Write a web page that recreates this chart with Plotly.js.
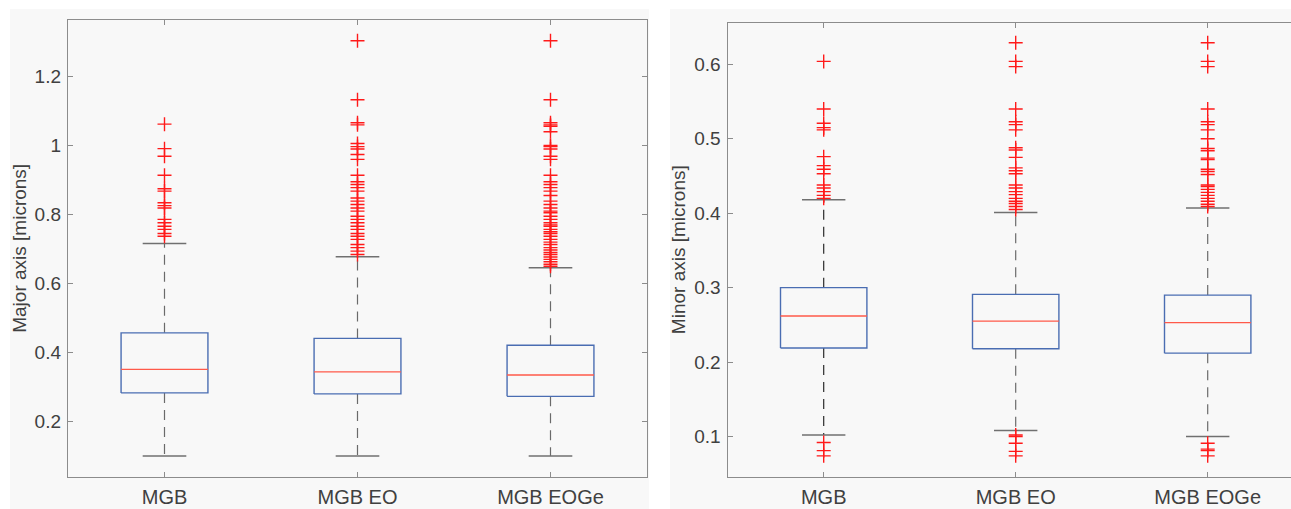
<!DOCTYPE html>
<html>
<head>
<meta charset="utf-8">
<script src="https://cdn.plot.ly/plotly-3.0.1.min.js"></script>
<style>
html,body{margin:0;padding:0;background:#ffffff;}
#chart{width:1291px;height:509px;}
</style>
</head>
<body>
<div id="chart"></div>
<script>
// ---------- data ----------
var categories = ['MGB', 'MGB EO', 'MGB EOGe'];

// Major axis [microns]
var majorQ1 = [0.283, 0.280, 0.273];
var majorMedian = [0.351, 0.344, 0.335];
var majorQ3 = [0.457, 0.441, 0.421];
var majorLowerWhisker = [0.100, 0.100, 0.100];
var majorUpperWhisker = [0.716, 0.678, 0.646];
var majorOutliersMGB = [1.062, 0.991, 0.969, 0.914, 0.875, 0.868, 0.834, 0.826, 0.819, 0.786, 0.776, 0.766, 0.757, 0.745, 0.737];
var majorOutliersEO = [1.304, 1.133, 1.066, 1.060, 1.006, 0.997, 0.990, 0.974, 0.960, 0.914, 0.895, 0.887, 0.878, 0.868, 0.848, 0.839, 0.829, 0.819, 0.810, 0.795, 0.786, 0.776, 0.766, 0.757, 0.745, 0.737, 0.728, 0.713, 0.704, 0.694, 0.684];
var majorOutliersEOGe = [1.304, 1.133, 1.066, 1.060, 1.056, 1.040, 1.000, 0.997, 0.990, 0.969, 0.960, 0.914, 0.895, 0.887, 0.878, 0.868, 0.855, 0.839, 0.829, 0.819, 0.810, 0.805, 0.795, 0.786, 0.776, 0.770, 0.766, 0.757, 0.750, 0.745, 0.737, 0.728, 0.720, 0.713, 0.704, 0.697, 0.690, 0.684, 0.677, 0.670, 0.663, 0.656, 0.650];

// Minor axis [microns]
var minorQ1 = [0.219, 0.218, 0.212];
var minorMedian = [0.262, 0.255, 0.253];
var minorQ3 = [0.300, 0.291, 0.290];
var minorLowerWhisker = [0.102, 0.108, 0.100];
var minorUpperWhisker = [0.418, 0.401, 0.407];
var minorOutliersMGB = [0.604, 0.540, 0.521, 0.515, 0.512, 0.476, 0.464, 0.459, 0.453, 0.438, 0.434, 0.429, 0.424, 0.420, 0.092, 0.081, 0.074];
var minorOutliersEO = [0.629, 0.604, 0.597, 0.540, 0.523, 0.519, 0.512, 0.488, 0.485, 0.475, 0.461, 0.457, 0.453, 0.438, 0.434, 0.429, 0.425, 0.420, 0.416, 0.413, 0.409, 0.405, 0.102, 0.100, 0.091, 0.080, 0.074];
var minorOutliersEOGe = [0.629, 0.604, 0.597, 0.540, 0.523, 0.519, 0.512, 0.500, 0.487, 0.484, 0.474, 0.472, 0.459, 0.456, 0.452, 0.438, 0.436, 0.432, 0.428, 0.424, 0.420, 0.416, 0.412, 0.409, 0.091, 0.083, 0.081, 0.074];

var majorTicks = [0.2, 0.4, 0.6, 0.8, 1, 1.2];
var majorTickText = ['0.2', '0.4', '0.6', '0.8', '1', '1.2'];
var minorTicks = [0.1, 0.2, 0.3, 0.4, 0.5, 0.6];
var minorTickText = ['0.1', '0.2', '0.3', '0.4', '0.5', '0.6'];

// ---------- styling ----------
var BOX_HALF = 0.225, CAP_HALF = 0.113;
var BLUE = '#4a6db2', RED_MED = '#ff5a4a', OUT = '#ff1a1a';
var FONT = 'Liberation Sans, Arial, sans-serif';
var TXT = '#404040', AXC = '#8c8c8c';

function buildPanel(q1, med, q3, lo, hi, outliers, xa, ya, whiskerColors) {
  var traces = [];
  var bx = [], by = [], mx = [], my = [], cx = [], cy = [];
  for (var i = 0; i < categories.length; i++) {
    var c = i + 1;
    bx.push(c - BOX_HALF, c + BOX_HALF, c + BOX_HALF, c - BOX_HALF, c - BOX_HALF, null);
    by.push(q1[i], q1[i], q3[i], q3[i], q1[i], null);
    mx.push(c - BOX_HALF, c + BOX_HALF, null);
    my.push(med[i], med[i], null);
    cx.push(c - CAP_HALF, c + CAP_HALF, null, c - CAP_HALF, c + CAP_HALF, null);
    cy.push(hi[i], hi[i], null, lo[i], lo[i], null);
    traces.push({
      type: 'scatter', mode: 'lines', xaxis: xa, yaxis: ya, hoverinfo: 'skip',
      x: [c, c, null, c, c], y: [q3[i], hi[i], null, q1[i], lo[i]],
      line: {color: whiskerColors[i], width: 1.2, dash: '10px,7px'}
    });
  }
  traces.push({type: 'scatter', mode: 'lines', xaxis: xa, yaxis: ya, x: cx, y: cy,
    line: {color: '#707070', width: 1.5}, hoverinfo: 'skip'});
  traces.push({type: 'scatter', mode: 'lines', xaxis: xa, yaxis: ya, x: bx, y: by,
    line: {color: BLUE, width: 1.4}, hoverinfo: 'skip'});
  traces.push({type: 'scatter', mode: 'lines', xaxis: xa, yaxis: ya, x: mx, y: my,
    line: {color: RED_MED, width: 1.4}, hoverinfo: 'skip'});
  var ox = [], oy = [];
  for (var k = 0; k < outliers.length; k++) {
    for (var j = 0; j < outliers[k].length; j++) { ox.push(k + 1); oy.push(outliers[k][j]); }
  }
  traces.push({type: 'scatter', mode: 'markers', xaxis: xa, yaxis: ya, x: ox, y: oy,
    marker: {symbol: 'cross-thin', size: 10, line: {color: OUT, width: 1.4}}});
  return traces;
}

var data = [].concat(
  buildPanel(majorQ1, majorMedian, majorQ3, majorLowerWhisker, majorUpperWhisker,
    [majorOutliersMGB, majorOutliersEO, majorOutliersEOGe], 'x', 'y', ['#6a6a6a', '#6a6a6a', '#6a6a6a']),
  buildPanel(minorQ1, minorMedian, minorQ3, minorLowerWhisker, minorUpperWhisker,
    [minorOutliersMGB, minorOutliersEO, minorOutliersEOGe], 'x2', 'y2', ['#2a2a2a', '#6a6a6a', '#6a6a6a'])
);

var W = 1291, H = 509;
function px(v) { return v / W; }
function py(v) { return 1 - v / H; }

function xAxis(domain, range, anchor) {
  return {
    domain: domain, range: range, anchor: anchor,
    tickmode: 'array', tickvals: [1, 2, 3], ticktext: categories,
    ticks: 'inside', ticklen: 5, tickcolor: AXC, tickwidth: 1,
    showline: true, linecolor: AXC, linewidth: 1.2, mirror: 'ticks',
    showgrid: false, zeroline: false, fixedrange: true,
    tickfont: {family: FONT, size: 20, color: TXT}, ticklabelstandoff: 2
  };
}
function yAxis(domain, range, anchor, tv, tt, title, mirror) {
  return {
    domain: domain, range: range, anchor: anchor,
    tickmode: 'array', tickvals: tv, ticktext: tt,
    ticks: 'inside', ticklen: 5, tickcolor: AXC, tickwidth: 1,
    showline: true, linecolor: AXC, linewidth: 1.2, mirror: mirror,
    showgrid: false, zeroline: false, fixedrange: true,
    tickfont: {family: FONT, size: 19, color: TXT}, ticklabelstandoff: 2,
    title: {text: title, font: {family: FONT, size: 19, color: TXT}, standoff: 3}
  };
}

var layout = {
  width: W, height: H,
  margin: {l: 0, r: 0, t: 0, b: 0},
  paper_bgcolor: '#ffffff', plot_bgcolor: 'rgba(0,0,0,0)',
  showlegend: false,
  xaxis: xAxis([px(68), px(647)], [0.5, 3.5], 'y'),
  yaxis: yAxis([py(476.7), py(20)], [0.04, 1.364], 'x', majorTicks, majorTickText, 'Major axis [microns]', 'ticks'),
  xaxis2: xAxis([px(727.7), 1], [0.5, 0.5 + (W - 727.7) / 192], 'y2'),
  yaxis2: yAxis([py(476.7), py(22.7)], [0.046, 0.656], 'x2', minorTicks, minorTickText, 'Minor axis [microns]', false),
  shapes: [
    {type: 'rect', xref: 'paper', yref: 'paper', x0: px(10), x1: px(649), y0: 0, y1: py(9),
     fillcolor: '#f8f8f8', line: {width: 0}, layer: 'below'},
    {type: 'rect', xref: 'paper', yref: 'paper', x0: px(670), x1: 1, y0: 0, y1: py(9),
     fillcolor: '#f8f8f8', line: {width: 0}, layer: 'below'}
  ]
};

Plotly.newPlot('chart', data, layout, {displayModeBar: false, staticPlot: true});
</script>
</body>
</html>
